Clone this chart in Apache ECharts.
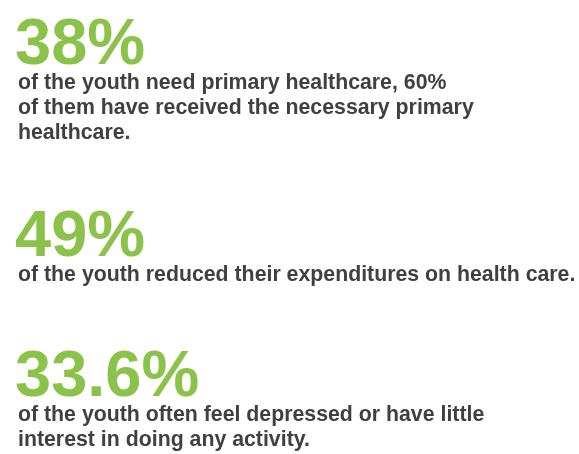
<!DOCTYPE html>
<html>
<head>
<meta charset="utf-8">
<script src="https://cdn.jsdelivr.net/npm/echarts@6/dist/echarts.min.js"></script>
<style>html,body{margin:0;padding:0;background:#fff;}#c{width:579px;height:454px;}</style>
</head>
<body>
<div id="c"></div>
<script>
var statValues = ['38%', '49%', '33.6%'];
var statDescriptions = [
  ['of the youth need primary healthcare, 60%', 'of them have received the necessary primary', 'healthcare.'],
  ['of the youth reduced their expenditures on health care.'],
  ['of the youth often feel depressed or have little', 'interest in doing any activity.']
];
var statBaselines = [64, 256, 396];

var chart = echarts.init(document.getElementById('c'));
var BIG = 65, SMALL = 21.3, LH = 24.7, GAP = 26;
var green = '#8bc34a', dark = '#404040';
var font = '"Liberation Sans", Arial, sans-serif';
var els = [];
statValues.forEach(function (v, i) {
  var b = statBaselines[i];
  els.push({
    type: 'text', left: 15, top: b - BIG * 0.78,
    style: { text: v, fill: green, font: 'bold ' + BIG + 'px ' + font }
  });
  statDescriptions[i].forEach(function (line, j) {
    var lb = b + GAP + j * LH;
    els.push({
      type: 'text', left: 18, top: lb - SMALL * 0.8,
      style: { text: line, fill: dark, font: 'bold ' + SMALL + 'px ' + font }
    });
  });
});
chart.setOption({ animation: false, graphic: { elements: els } });
</script>
</body>
</html>
